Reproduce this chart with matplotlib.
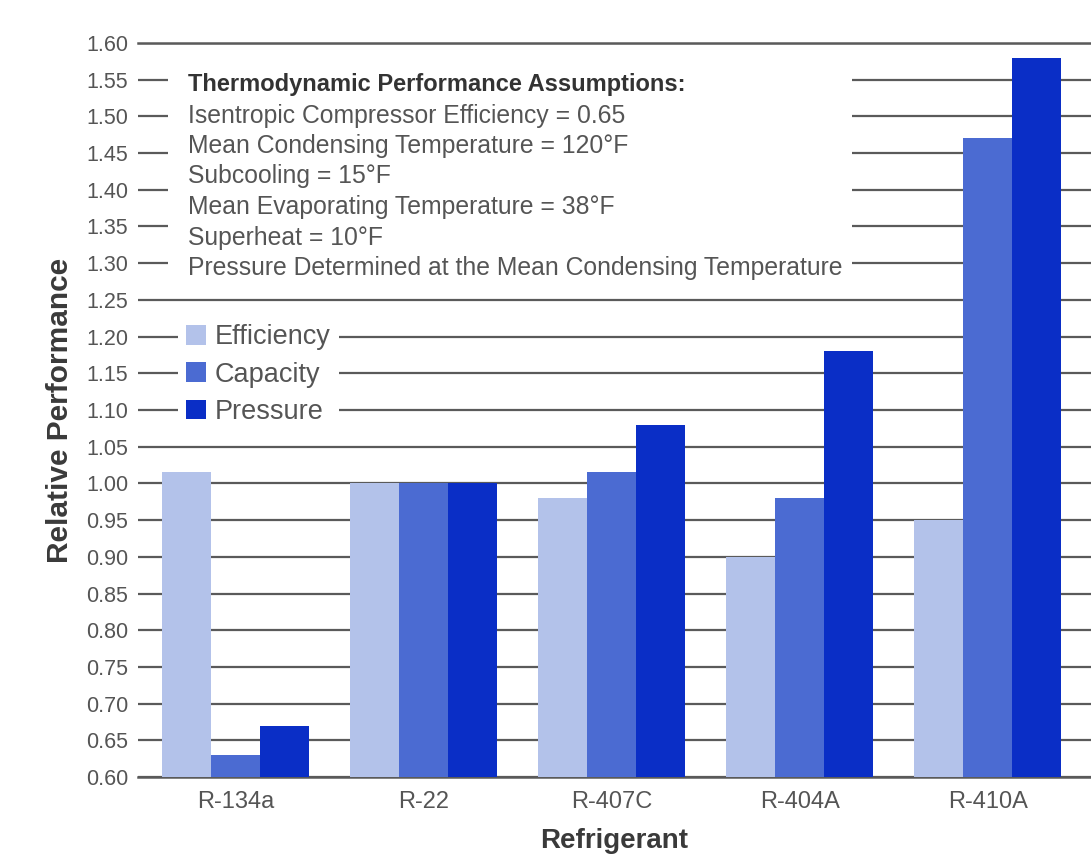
import numpy as np
import matplotlib.pyplot as plt
from matplotlib.patches import Rectangle

refrigerants = ['R-134a', 'R-22', 'R-407C', 'R-404A', 'R-410A']
efficiency = [1.015, 1.00, 0.98, 0.90, 0.95]
capacity = [0.63, 1.00, 1.015, 0.98, 1.47]
pressure = [0.67, 1.00, 1.08, 1.18, 1.58]
series_names = ['Efficiency', 'Capacity', 'Pressure']
ytick_labels = ['0.60', '0.65', '0.70', '0.75', '0.80', '0.85', '0.90', '0.95',
                '1.00', '1.05', '1.10', '1.15', '1.20', '1.25', '1.30', '1.35',
                '1.40', '1.45', '1.50', '1.55', '1.60']
assumptions = [
    'Isentropic Compressor Efficiency = 0.65',
    'Mean Condensing Temperature = 120\u00b0F',
    'Subcooling = 15\u00b0F',
    'Mean Evaporating Temperature = 38\u00b0F',
    'Superheat = 10\u00b0F',
    'Pressure Determined at the Mean Condensing Temperature',
]

colors = ['#b3c2ea', '#4b6bd2', '#0a2ec6']
grid_col = '#5a5a5a'
font = ['Liberation Sans', 'DejaVu Sans']
W, H = 1091, 865


def px(x, y):
    # pixel position (from top-left) -> figure fraction
    return x / W, 1 - y / H


fig = plt.figure(figsize=(W / 100, H / 100), dpi=100)
fig.patch.set_facecolor('white')
ax = fig.add_axes([138 / W, 88 / H, 953 / W, 734 / H])

x = np.arange(len(refrigerants))
width = 0.26
bars = []
for i, (vals, name) in enumerate(zip([efficiency, capacity, pressure], series_names)):
    b = ax.bar(x + (i - 1) * width, np.array(vals) - 0.60, width, bottom=0.60,
               color=colors[i], label=name, zorder=3)
    bars.append(b)

ax.set_ylim(0.60, 1.60)
ax.set_xlim(-0.52, 4.55)
ax.set_yticks([float(t) for t in ytick_labels])
ax.set_yticklabels(ytick_labels, family=font, fontsize=15.5, color='#555555')
ax.set_xticks(x)
ax.set_xticklabels(refrigerants, family=font, fontsize=17, color='#555555')
ax.tick_params(axis='both', length=0)
ax.tick_params(axis='y', pad=7)
ax.tick_params(axis='x', pad=10)
ax.yaxis.grid(True, color=grid_col, lw=1.6)
ax.set_axisbelow(True)
for s in ['left', 'right']:
    ax.spines[s].set_visible(False)
for s in ['top', 'bottom']:
    ax.spines[s].set_color(grid_col)
    ax.spines[s].set_linewidth(1.8)

ax.set_ylabel('Relative Performance', family=font, fontsize=21.5,
              fontweight='bold', color='#3a3a3a', labelpad=9)
ax.set_xlabel('Refrigerant', family=font, fontsize=20, fontweight='bold',
              color='#3a3a3a', labelpad=11)

# white panel behind the assumptions text
x0, y0 = px(168, 282)
x1, y1 = px(852, 58)
fig.add_artist(Rectangle((x0, y0), x1 - x0, y1 - y0, transform=fig.transFigure,
                         facecolor='white', edgecolor='none', zorder=1))

tx, ty = px(188, 85)
fig.text(tx, ty, 'Thermodynamic Performance Assumptions:', family=font,
         fontsize=17, fontweight='bold', color='#333333', va='center', zorder=2)
for i, line in enumerate(assumptions):
    lx, ly = px(188, 85 + (i + 1) * 30.5)
    fig.text(lx, ly, line, family=font, fontsize=17.8, color='#555555',
             va='center', zorder=2)

lx, ly = px(178, 316)
leg = ax.legend(handles=bars, loc='upper left', bbox_to_anchor=(lx, ly),
                bbox_transform=fig.transFigure, frameon=True, fancybox=False,
                facecolor='white', edgecolor='none', framealpha=1,
                prop={'family': font, 'size': 19.5},
                handlelength=0.75, handleheight=0.75, handletextpad=0.3,
                labelspacing=0.42, borderpad=0.3, borderaxespad=0)
for t in leg.get_texts():
    t.set_color('#555555')

fig.savefig('out.png', dpi=100, facecolor='white')
